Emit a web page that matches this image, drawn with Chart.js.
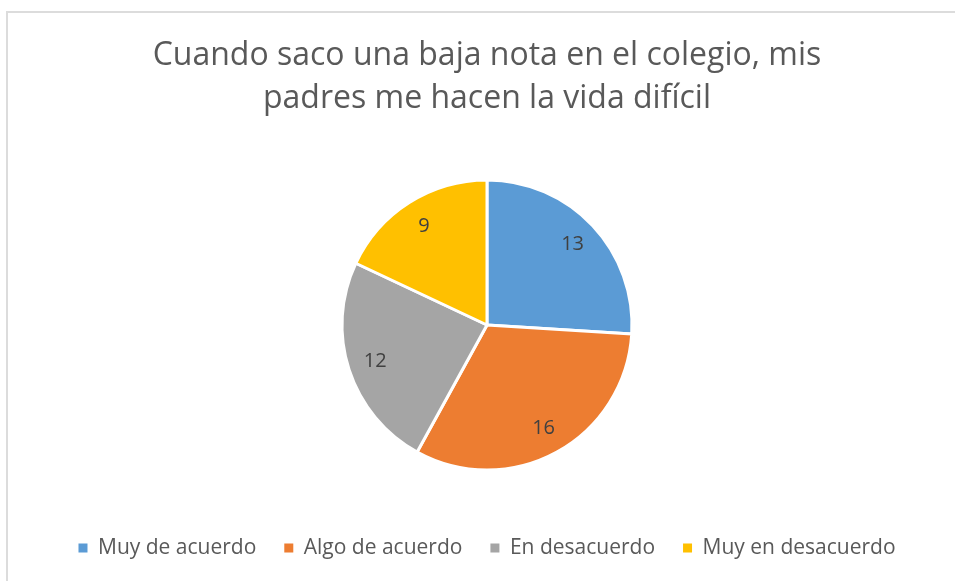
<!DOCTYPE html>
<html>
<head>
<meta charset="utf-8">
<script src="https://cdn.jsdelivr.net/npm/chart.js@4"></script>
<style>
  html, body { margin: 0; padding: 0; background: #fff; overflow: hidden; }
  #frame { position: absolute; left: 6px; top: 11px; width: 980px; height: 600px; border: 2px solid #dcdcdc; box-sizing: border-box; }
  #box { position: absolute; left: 6px; top: 11px; width: 962px; height: 575px; }
</style>
</head>
<body>
<div id="frame"></div>
<div id="box"><canvas id="pie-chart"></canvas></div>
<script>
// chart data
const categories = ['Muy de acuerdo', 'Algo de acuerdo', 'En desacuerdo', 'Muy en desacuerdo'];
const values = [13, 16, 12, 9];
const colors = ['#5b9bd5', '#ed7d31', '#a5a5a5', '#ffc000'];
const titleLines = ['Cuando saco una baja nota en el colegio, mis', 'padres me hacen la vida difícil'];

const FONT = '"Open Sans", Lato, sans-serif';

// draw the value of each slice inside it (like excel data labels)
const sliceLabels = {
    id: 'sliceLabels',
    afterDatasetsDraw(chart) {
        const ctx = chart.ctx;
        const meta = chart.getDatasetMeta(0);
        ctx.save();
        ctx.font = '20px ' + FONT;
        ctx.fillStyle = '#404040';
        ctx.textAlign = 'center';
        ctx.textBaseline = 'middle';
        meta.data.forEach(function(arc, i) {
            const p = arc.getProps(['x', 'y', 'startAngle', 'endAngle', 'outerRadius']);
            const mid = (p.startAngle + p.endAngle) / 2;
            const r = p.outerRadius * 0.81;
            ctx.fillText(String(chart.data.datasets[0].data[i]), p.x + Math.cos(mid) * r, p.y + Math.sin(mid) * r);
        });
        ctx.restore();
    }
};

const data = {
    labels: categories,
    datasets: [{
        data: values,
        backgroundColor: colors,
        borderColor: '#ffffff',
        borderWidth: 3
    }]
};

const config = {
    type: 'pie',
    data: data,
    options: {
        responsive: true,
        maintainAspectRatio: false,
        animation: false,
        radius: 145,
        layout: {
            padding: { top: 0, bottom: 17.5 }
        },
        plugins: {
            title: {
                display: true,
                text: titleLines,
                color: '#595959',
                font: { family: FONT, size: 32, weight: 'normal', lineHeight: 1.35 },
                padding: { top: 23.5, bottom: 19.6 }
            },
            legend: {
                position: 'bottom',
                labels: {
                    color: '#595959',
                    font: { family: FONT, size: 21 },
                    boxWidth: 9,
                    boxHeight: 9,
                    padding: 28,
                    generateLabels: function(chart) {
                        const items = Chart.overrides.pie.plugins.legend.labels.generateLabels(chart);
                        items.forEach(function(it) { it.lineWidth = 0; });
                        return items;
                    }
                }
            },
            tooltip: { enabled: false }
        }
    },
    plugins: [sliceLabels]
};

const myChart = new Chart(document.getElementById('pie-chart').getContext('2d'), config);
</script>
</body>
</html>
